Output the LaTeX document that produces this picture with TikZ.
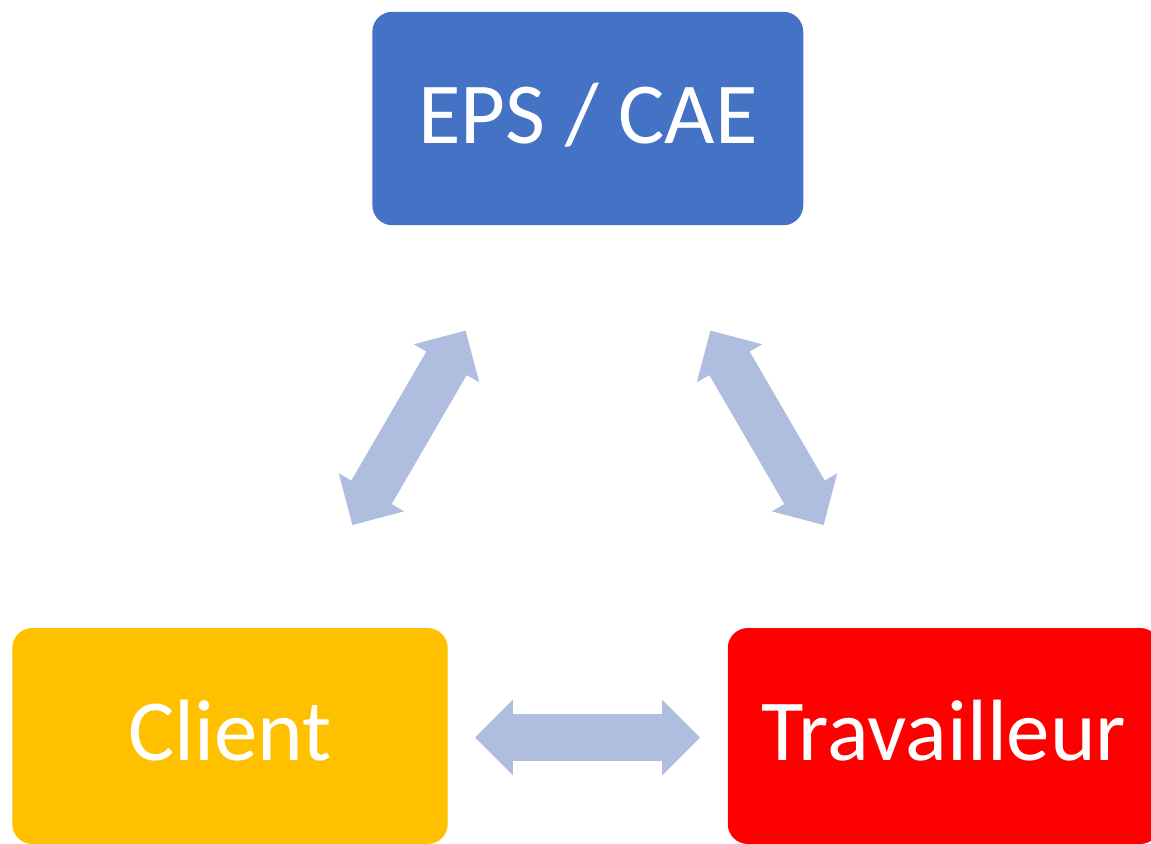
\documentclass[tikz,border=0pt]{standalone}
\usepackage{fontspec}
\setmainfont{Carlito}
\usetikzlibrary{shapes.arrows}
\definecolor{boxblue}{HTML}{4472C4}
\definecolor{boxgold}{HTML}{FFC000}
\definecolor{boxred}{HTML}{FF0000}
\definecolor{arrowblue}{HTML}{AFBEDF}
\tikzset{
  box/.style={rectangle, rounded corners=0.4cm, draw=none, text=white,
    font=\fontsize{49.5}{59}\selectfont, text height=1.1cm, text depth=0.12cm,
    inner sep=0pt, outer sep=0pt},
  dblarrow/.style={double arrow, fill=arrowblue, draw=none,
    minimum height=4.5cm, double arrow head extend=0.29cm,
    text height=0pt, text depth=0pt, text width=0pt,
    inner xsep=0pt, inner ysep=0.46cm, outer sep=0pt}
}
\begin{document}
\begin{tikzpicture}[x=0.02cm,y=-0.02cm]
  \useasboundingbox (0,0) rectangle (1151,843);
  \clip (0,0) rectangle (1151,843);
  \fill[white] (0,0) rectangle (1151,843);
  \node[box, fill=boxblue, minimum width=8.62cm, minimum height=4.27cm] (eps) at (587.8,118.5) {EPS / CAE};
  \node[box, fill=boxgold, minimum width=8.71cm, minimum height=4.32cm] (client) at (230,736) {Client};
  \node[box, fill=boxred, minimum width=8.65cm, minimum height=4.32cm] (trav) at (944,736) {Travailleur};
  \node[dblarrow, rotate=59.8] (ce) at (409,427.8) {};
  \node[dblarrow, rotate=-59.8] (et) at (767,427.8) {};
  \node[dblarrow] (ct) at (587.5,737.5) {};
\end{tikzpicture}
\end{document}
